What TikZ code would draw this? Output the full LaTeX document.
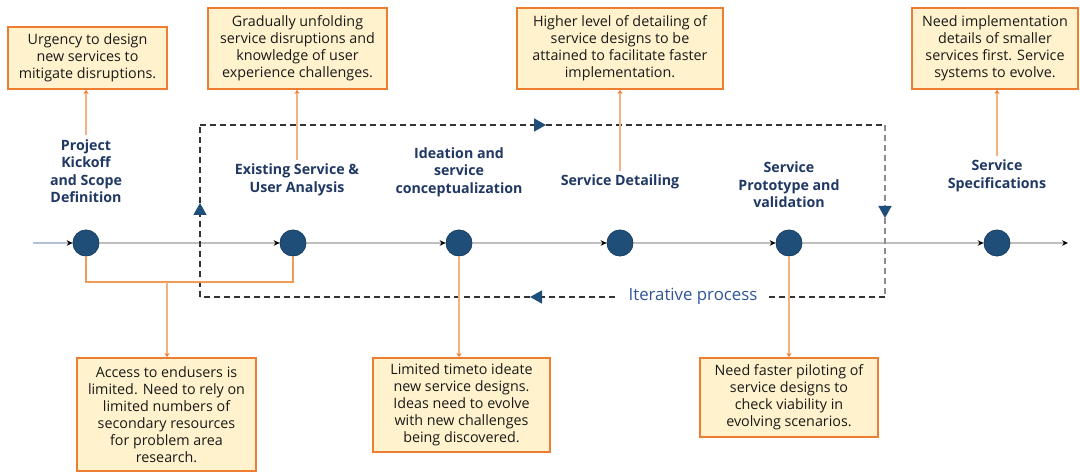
\documentclass[tikz,border=0pt]{standalone}
\usepackage{fontspec}
\setmainfont{Open Sans}
\usetikzlibrary{arrows.meta}
\definecolor{navy}{HTML}{1F4E79}
\definecolor{labelblue}{HTML}{203864}
\definecolor{boxfill}{HTML}{FFF2CC}
\definecolor{boxline}{HTML}{ED7D31}
\definecolor{linkor}{HTML}{F4B183}
\definecolor{brackor}{HTML}{F19A55}
\definecolor{itblue}{HTML}{2F5597}
\definecolor{axis}{HTML}{BFBFBF}
\definecolor{axisfirst}{HTML}{B4C0DC}
\begin{document}
\begin{tikzpicture}[x=1pt,y=-1pt,
  note/.style={draw=boxline, line width=1.8pt, fill=boxfill, align=center,
    text=black!90, font=\fontsize{14.3}{17}\selectfont, inner sep=0pt},
  stage/.style={align=center, text=labelblue,
    font=\fontsize{14.2}{17.5}\selectfont\bfseries, inner sep=4pt},
  dot/.style={circle, fill=navy, draw=navy!85!black, line width=0.6pt,
    minimum size=26pt, inner sep=0pt},
  axisline/.style={draw=axis, line width=1.5pt,
    -{Stealth[length=6pt,width=5.5pt,black]}},
  link/.style={draw=linkor, line width=1.2pt,
    -{Stealth[length=4pt,width=5pt,boxline]}},
  bracketline/.style={draw=brackor, line width=2pt},
  loopline/.style={draw=black!80, line width=1.5pt, dash pattern=on 6pt off 4pt},
  loopgray/.style={loopline, draw=black!45},
  looptip/.style={-{Triangle[length=12pt,width=13pt,fill=navy,color=navy]}},
]
% canvas
\fill[white] (0,0) rectangle (1080,473);
\useasboundingbox (0,0) rectangle (1080,473);

% stage dots on the timeline
\node[dot] (c1) at (86,243) {};
\node[dot] (c2) at (293,243) {};
\node[dot] (c3) at (459,243) {};
\node[dot] (c4) at (620,243) {};
\node[dot] (c5) at (789,243) {};
\node[dot] (c6) at (997,243) {};
\coordinate (tstart) at (33,243);
\coordinate (tend) at (1068,243);

% timeline segments
\draw[axisline, draw=axisfirst] (tstart) -- (c1);
\draw[axisline] (c1) -- (c2);
\draw[axisline] (c2) -- (c3);
\draw[axisline] (c3) -- (c4);
\draw[axisline] (c4) -- (c5);
\draw[axisline] (c5) -- (c6);
\draw[axisline] (c6) -- (tend);

% iterative loop
\coordinate (lt) at (200,125);
\coordinate (rt) at (885,125);
\coordinate (rb) at (885,297);
\coordinate (lb) at (200,297);
\coordinate (tm) at (546,125);
\coordinate (rm) at (885,218);
\coordinate (bm) at (530,297);
\coordinate (lm) at (200,203);
\draw[loopline, looptip] (lt) -- (tm);
\draw[loopline] (tm) -- (rt);
\draw[loopgray, looptip] (rt) -- (rm);
\draw[loopgray] (rm) -- (rb);
\draw[loopline, looptip] (rb) -- (bm);
\draw[loopline] (bm) -- (lb);
\draw[loopline, looptip] (lb) -- (lm);
\draw[loopline] (lm) -- (lt);
\node[fill=white, inner xsep=10pt, inner ysep=2pt, text=itblue,
  font=\fontsize{16.8}{19}\selectfont] (iter) at (693,296) {Iterative process};

% redraw the dots above the loop
\foreach \c in {c1,c2,c3,c4,c5,c6} \node[dot] at (\c) {};

% stage labels
\node[stage] (s1) at (86,171) {Project\\Kickoff\\and Scope\\Definition};
\node[stage] (s2) at (297,180) {Existing Service \&\\User Analysis};
\node[stage] (s3) at (459,172) {Ideation and\\service\\conceptualization};
\node[stage] (s4) at (620,182) {Service Detailing};
\node[stage] (s5) at (789,185) {Service\\Prototype and\\validation};
\node[stage] (s6) at (997,176) {Service\\Specifications};

% challenge notes above
\node[note, minimum width=159pt, minimum height=62pt] (t1) at (87.5,58)
  {Urgency to design\\new services to\\mitigate disruptions.};
\node[note, minimum width=179pt, minimum height=81pt] (t2) at (297.5,48.5)
  {Gradually unfolding\\service disruptions and\\knowledge of user\\experience challenges.};
\node[note, minimum width=206pt, minimum height=81pt] (t4) at (620,48.5)
  {Higher level of detailing of\\service designs to be\\attained to facilitate faster\\implementation.};
\node[note, minimum width=166pt, minimum height=81pt] (t6) at (995,48.5)
  {Need implementation\\details of smaller\\services first. Service\\systems to evolve.};

% challenge notes below
\node[note, minimum width=179pt, minimum height=113pt] (b1) at (166.5,414.5)
  {Access to endusers is\\limited. Need to rely on\\limited numbers of\\secondary resources\\for problem area\\research.};
\node[note, minimum width=177pt, minimum height=94pt] (b3) at (461.5,405)
  {Limited timeto ideate\\new service designs.\\Ideas need to evolve\\with new challenges\\being discovered.};
\node[note, minimum width=178pt, minimum height=79pt] (b5) at (789,397.5)
  {Need faster piloting of\\service designs to\\check viability in\\evolving scenarios.};

% links from stages to notes
\draw[link] (s1.north) -- (s1.north |- t1.south);
\draw[link] (s2.north) -- (s2.north |- t2.south);
\draw[link] (s4.north) -- (s4.north |- t4.south);
\draw[link] (s6.north) -- (s6.north |- t6.south);

\coordinate (brk) at (167,282);
\draw[bracketline] (c1.south) |- (brk) -| (c2.south);
\draw[link] (brk) -- (brk |- b1.north);
\draw[link] (c3.south) -- (c3.south |- b3.north);
\draw[link] (c5.south) -- (c5.south |- b5.north);
\end{tikzpicture}
\end{document}
